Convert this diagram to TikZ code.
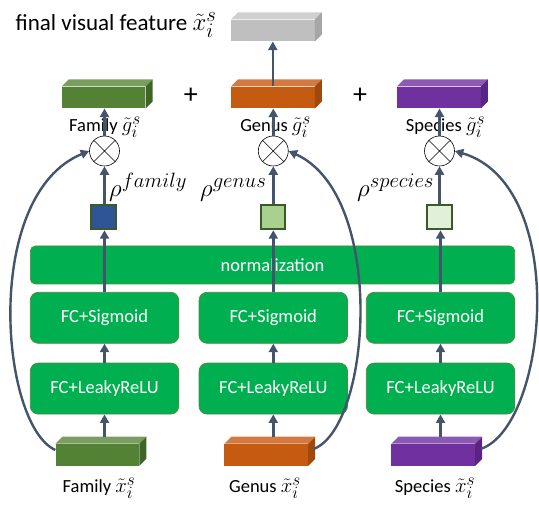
\documentclass[tikz,border=0pt]{standalone}
\usepackage{fontspec}
\setmainfont{Carlito}
\usetikzlibrary{arrows.meta,calc}
\DeclareMathSizes{25}{25}{21}{16}
\DeclareMathSizes{18.5}{22}{17}{13}
\DeclareMathSizes{23}{25}{20}{15}
\definecolor{fcgreen}{HTML}{00B050}
\definecolor{boxborder}{HTML}{4E8A3E}
\definecolor{arrowc}{HTML}{44546A}
\definecolor{famfront}{HTML}{548235}
\definecolor{famtop}{HTML}{7A9E5F}
\definecolor{famside}{HTML}{3F6428}
\definecolor{genfront}{HTML}{C55A11}
\definecolor{gentop}{HTML}{D47A40}
\definecolor{genside}{HTML}{A0490D}
\definecolor{spefront}{HTML}{7030A0}
\definecolor{spetop}{HTML}{8C5AB4}
\definecolor{speside}{HTML}{5A2582}
\definecolor{grayfront}{HTML}{BFBFBF}
\definecolor{graytop}{HTML}{D0D0D0}
\definecolor{grayside}{HTML}{A6A6A6}
\definecolor{sqone}{HTML}{2F5597}
\definecolor{sqtwo}{HTML}{A9D18E}
\definecolor{sqthree}{HTML}{E2F0D9}
\definecolor{sqborder}{HTML}{3A5A28}
\newcommand\featbox[3]{%
  \fill[#2] (#1.north west) -- ++(7,-7) -- ($(#1.north east)+(7,-7)$) -- (#1.north east) -- cycle;
  \fill[#3] (#1.north east) -- ++(7,-7) -- ($(#1.south east)+(7,-7)$) -- (#1.south east) -- cycle;
}
\tikzset{
  arr/.style={draw=arrowc, line width=2.4pt, -{Triangle[length=8.5pt,width=9pt]}},
  greenbox/.style={draw=boxborder, line width=0.7pt, fill=fcgreen, rounded corners=8pt,
    text=white, font=\fontsize{18.5}{22}\selectfont, minimum width=148.5pt,
    minimum height=51pt, inner sep=0pt},
  feat/.style={minimum width=83.5pt, minimum height=21.7pt, inner sep=0pt},
  sqbox/.style={draw=sqborder, line width=2pt, minimum size=24.5pt, inner sep=0pt},
  mul/.style={circle, draw=black, line width=0.6pt, fill=white, minimum size=30pt, inner sep=0pt},
  lbl/.style={font=\fontsize{18.5}{22}\selectfont, inner sep=0pt, anchor=base},
  rholbl/.style={font=\fontsize{25}{30}\selectfont, inner sep=0pt, anchor=base west},
  plus/.style={font=\fontsize{28}{32}\selectfont, inner sep=0pt},
}
\begin{document}
\begin{tikzpicture}[x=1pt,y=-1pt]
\useasboundingbox (0,0) rectangle (539,505);

% title and final feature
\node[font=\fontsize{23}{27}\selectfont, inner sep=0pt, anchor=base west] (title) at (15.5,31) {final visual feature $\tilde{x}_i^s$};
\node[feat, fill=grayfront] (gray) at (272.8,30.5) {};
\featbox{gray}{graytop}{grayside}

% top feature boxes
\node[feat, fill=famfront] (fg) at (103.7,97.5) {};
\featbox{fg}{famtop}{famside}
\node[feat, fill=genfront] (gg) at (272.8,97.5) {};
\featbox{gg}{gentop}{genside}
\node[feat, fill=spefront] (sg) at (438.8,97.5) {};
\featbox{sg}{spetop}{speside}
\node[plus] (p1) at (190.8,96) {+};
\node[plus] (p2) at (360,96) {+};
\node[lbl] (fgl) at (105,132) {Family $\tilde{g}_i^s$};
\node[lbl] (ggl) at (275.6,132) {Genus $\tilde{g}_i^s$};
\node[lbl] (sgl) at (445.5,132) {Species $\tilde{g}_i^s$};

% multiplication circles
\node[mul] (fm) at (104.5,151) {};
\node[mul] (gm) at (273.3,151) {};
\node[mul] (sm) at (439.5,151) {};
\foreach \m in {fm,gm,sm}{
  \draw[line width=0.6pt] (\m.north east) -- (\m.south west) (\m.north west) -- (\m.south east);
}

% rho labels
\node[rholbl] (fr) at (109,197) {$\rho^{family}$};
\node[rholbl] (gr) at (200,197) {$\rho^{genus}$};
\node[rholbl] (sr) at (357,197) {$\rho^{species}$};

% squares
\node[sqbox, fill=sqone] (fq) at (103.5,217) {};
\node[sqbox, fill=sqtwo] (gq) at (272.8,217) {};
\node[sqbox, fill=sqthree] (sq) at (439.5,217) {};

% normalization and FC boxes
\node[greenbox, rounded corners=5pt, minimum width=484.3pt, minimum height=38pt] (norm) at (272.5,265) {normalization};
\node[greenbox] (fs) at (104.5,317.8) {FC+Sigmoid};
\node[greenbox] (gs) at (273.3,317.8) {FC+Sigmoid};
\node[greenbox] (ss) at (440.5,317.8) {FC+Sigmoid};
\node[greenbox] (fl) at (104.5,388.6) {FC+LeakyReLU};
\node[greenbox] (gl) at (273.3,388.6) {FC+LeakyReLU};
\node[greenbox] (sl) at (440.5,388.6) {FC+LeakyReLU};

% bottom feature boxes
\node[feat, fill=famfront] (fx) at (97.3,454.8) {};
\featbox{fx}{famtop}{famside}
\node[feat, fill=genfront] (gx) at (266.2,454.8) {};
\featbox{gx}{gentop}{genside}
\node[feat, fill=spefront] (sx) at (433.2,454.8) {};
\featbox{sx}{spetop}{speside}
\node[lbl] (fxl) at (99,493) {Family $\tilde{x}_i^s$};
\node[lbl] (gxl) at (265,493) {Genus $\tilde{x}_i^s$};
\node[lbl] (sxl) at (435,493) {Species $\tilde{x}_i^s$};

% vertical arrows
\foreach \x/\l/\s/\q/\m/\g in {fx/fl/fs/fq/fm/fg, gx/gl/gs/gq/gm/gg, sx/sl/ss/sq/sm/sg}{
  \draw[arr] ($(\l.south |- \x.north)+(0,-7)$) -- (\l.south);
  \draw[arr] (\l.north) -- (\s.south);
  \draw[arr] (\s.north) -- (\s.north |- \q.south);
  \draw[arr] (\m.south |- \q.north) -- (\m.south);
  \draw[arr] (\m.north) -- (\m.north |- \g.south);
}
\draw[arr] (gg.north) -- (gray.south);

% skip connections
\draw[arr] ($(fx.west)+(0,-4.8)$) .. controls (0,425) and (-18,195) .. (fm.west);
\draw[arr] ($(gx.east)+(6,-6)$) .. controls (372,425) and (386,195) .. (gm.east);
\draw[arr] ($(sx.east)+(6,-6)$) .. controls (548,425) and (570,185) .. (sm.east);
\end{tikzpicture}
\end{document}
